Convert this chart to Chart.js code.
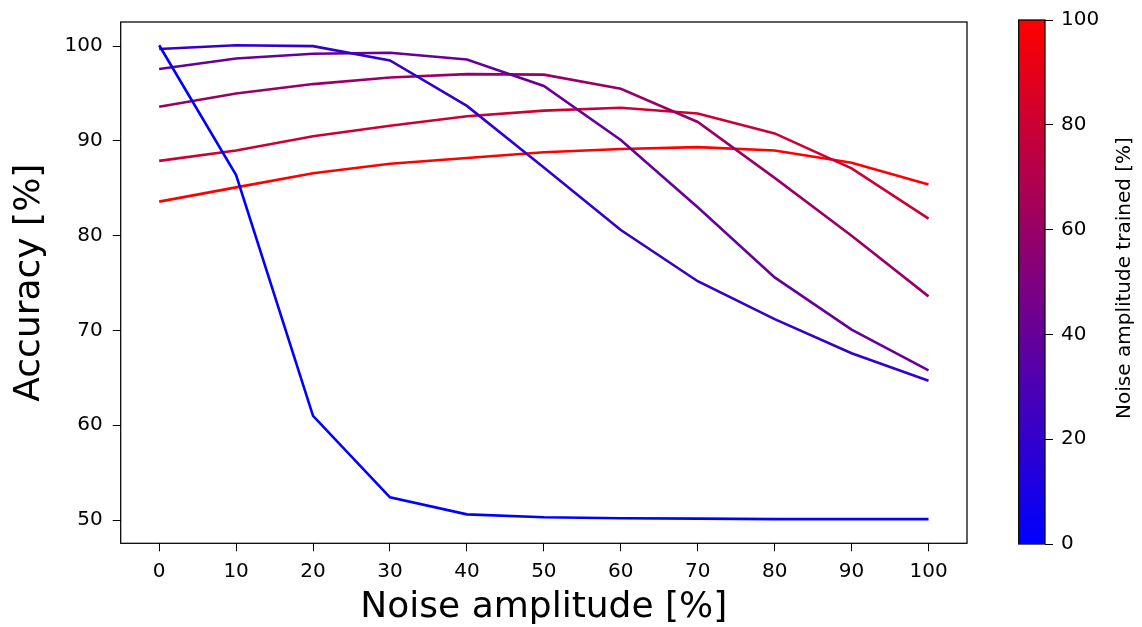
<!DOCTYPE html>
<html>
<head>
<meta charset="utf-8">
<script src="https://cdn.jsdelivr.net/npm/chart.js@4.4.0/dist/chart.umd.min.js"></script>
<style>
  body { margin: 0; background: #fff; }
  #wrap { position: relative; width: 1142px; height: 627px; }
  #main { position: absolute; left: 0; top: 0; width: 1000px; height: 627px; }
  #bar { position: absolute; left: 1000px; top: 0; width: 142px; height: 627px; }
</style>
</head>
<body>
<div id="wrap">
  <div id="main"><canvas id="accChart"></canvas></div>
  <div id="bar"><canvas id="cbChart"></canvas></div>
</div>
<script>
// noise applied at test time (x axis)
const noise = [0, 10, 20, 30, 40, 50, 60, 70, 80, 90, 100];

// accuracy per training noise level
const trained = [0, 20, 40, 60, 80, 100];
const acc0   = [100.1, 86.4, 61.0, 52.4, 50.6, 50.3, 50.2, 50.15, 50.1, 50.1, 50.1];
const acc20  = [99.7, 100.1, 100.0, 98.5, 93.7, 87.2, 80.6, 75.2, 71.2, 67.6, 64.7];
const acc40  = [97.6, 98.7, 99.2, 99.3, 98.6, 95.8, 90.1, 83.0, 75.6, 70.1, 65.8];
const acc60  = [93.6, 95.0, 96.0, 96.7, 97.05, 97.0, 95.5, 92.0, 86.1, 80.0, 73.6];
const acc80  = [87.9, 89.0, 90.5, 91.6, 92.6, 93.2, 93.5, 92.9, 90.8, 87.1, 81.8];
const acc100 = [83.6, 85.1, 86.6, 87.6, 88.2, 88.8, 89.15, 89.35, 89.0, 87.7, 85.4];

const xTicks = [0, 10, 20, 30, 40, 50, 60, 70, 80, 90, 100];
const yTicks = [50, 60, 70, 80, 90, 100];
const cbTicks = [0, 20, 40, 60, 80, 100];

Chart.defaults.font.family = 'DejaVu Sans';
Chart.defaults.color = '#000';
Chart.defaults.animation = false;

// blue -> red colormap
function cmap(t) {
  return 'rgb(' + Math.round(255 * t) + ',0,' + Math.round(255 * (1 - t)) + ')';
}

const frame = {
  id: 'frame',
  afterDraw(chart) {
    const a = chart.chartArea, c = chart.ctx;
    c.save();
    c.strokeStyle = '#000';
    c.lineWidth = 1.25;
    c.strokeRect(a.left, a.top, a.right - a.left, a.bottom - a.top);
    c.restore();
  }
};

const series = [acc0, acc20, acc40, acc60, acc80, acc100];

new Chart(document.getElementById('accChart'), {
  type: 'line',
  data: {
    datasets: series.map((s, i) => ({
      label: String(trained[i]),
      data: s.map((v, j) => ({ x: noise[j], y: v })),
      borderColor: cmap(trained[i] / 100),
      borderWidth: 2.6,
      pointRadius: 0,
      tension: 0,
      fill: false
    }))
  },
  options: {
    responsive: true,
    maintainAspectRatio: false,
    layout: { padding: { top: 18, right: 33, left: 0, bottom: 0 } },
    plugins: { legend: { display: false }, tooltip: { enabled: false } },
    scales: {
      x: {
        type: 'linear',
        min: -5,
        max: 105,
        afterBuildTicks: s => { s.ticks = xTicks.map(v => ({ value: v })); },
        afterFit: s => { s.height = 83.7; },
        grid: { drawOnChartArea: false, drawTicks: true, tickLength: 8, color: '#000' },
        border: { display: false },
        ticks: { font: { size: 20 }, padding: 8, maxRotation: 0, autoSkip: false },
        title: { display: true, text: 'Noise amplitude [%]', font: { size: 36, lineHeight: 1.1 }, padding: 0 }
      },
      y: {
        type: 'linear',
        min: 47.55,
        max: 102.55,
        afterBuildTicks: s => { s.ticks = yTicks.map(v => ({ value: v })); },
        afterFit: s => { s.width = 120.7; },
        grid: { drawOnChartArea: false, drawTicks: true, tickLength: 8, color: '#000' },
        border: { display: false },
        ticks: { font: { size: 20 }, padding: 10 },
        title: { display: true, text: 'Accuracy [%]', font: { size: 36, lineHeight: 1.2 }, padding: { top: 8, bottom: 0 } }
      }
    }
  },
  plugins: [frame]
});

// colorbar
const cbTitle = {
  id: 'cbTitle',
  afterDraw(chart) {
    const c = chart.ctx, a = chart.chartArea;
    c.save();
    c.translate(125, (a.top + a.bottom) / 2 - 4);
    c.rotate(-Math.PI / 2);
    c.font = '20px "DejaVu Sans"';
    c.fillStyle = '#000';
    c.textAlign = 'center';
    c.textBaseline = 'middle';
    c.fillText('Noise amplitude trained [%]', 0, 0);
    c.restore();
  }
};

new Chart(document.getElementById('cbChart'), {
  type: 'bar',
  data: {
    labels: [''],
    datasets: [{
      data: [100],
      categoryPercentage: 1,
      barPercentage: 1,
      borderWidth: 0,
      backgroundColor: ctx => {
        const a = ctx.chart.chartArea;
        if (!a) return cmap(0.5);
        const g = ctx.chart.ctx.createLinearGradient(0, a.bottom, 0, a.top);
        g.addColorStop(0, cmap(0));
        g.addColorStop(1, cmap(1));
        return g;
      }
    }]
  },
  options: {
    responsive: true,
    maintainAspectRatio: false,
    layout: { padding: { top: 18.3, left: 18.7, right: 0, bottom: 83 } },
    plugins: { legend: { display: false }, tooltip: { enabled: false } },
    scales: {
      x: { display: false },
      y: {
        position: 'right',
        min: 0,
        max: 100,
        afterBuildTicks: s => { s.ticks = cbTicks.map(v => ({ value: v })); },
        afterFit: s => { s.width = 97; },
        grid: { drawOnChartArea: false, drawTicks: true, tickLength: 8, color: '#000' },
        border: { display: false },
        ticks: { font: { size: 20 }, padding: 8 }
      }
    }
  },
  plugins: [frame, cbTitle]
});
</script>
</body>
</html>
